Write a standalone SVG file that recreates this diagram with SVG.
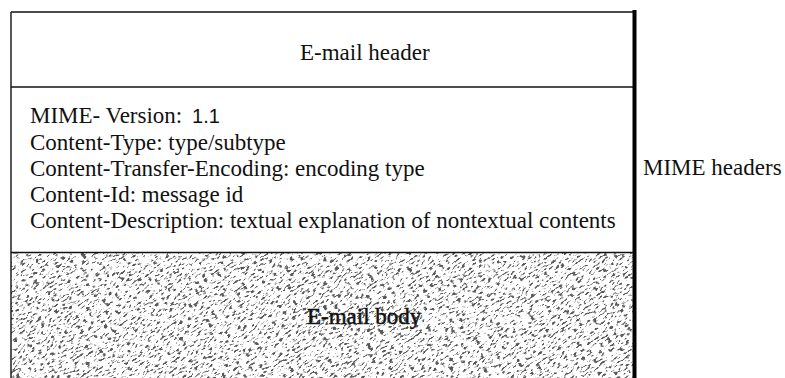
<svg xmlns="http://www.w3.org/2000/svg" width="785" height="378" viewBox="0 0 785 378">
  <style>
    .t { font-family: "Liberation Serif", "Times New Roman", serif; font-size: 23px; fill: #111; }
    .s { font-family: "Liberation Sans", Arial, sans-serif; font-size: 20px; fill: #111; }
    .thin { stroke: #111; stroke-width: 1.4; fill: none; }
    .thick { stroke: #000; stroke-width: 4; fill: none; }
  </style>
  <defs>
    <filter id="noise" x="0" y="0" width="100%" height="100%" filterUnits="objectBoundingBox">
      <feTurbulence type="fractalNoise" baseFrequency="0.22 0.55" numOctaves="3" seed="11" result="t"/>
      <feColorMatrix in="t" type="matrix" values="0 0 0 0 0.1  0 0 0 0 0.1  0 0 0 0 0.1  8 0 0 0 -4.3"/>
    </filter>
    <clipPath id="bodyclip">
      <rect x="11" y="253" width="623" height="125"/>
    </clipPath>
  </defs>
  <rect width="785" height="378" fill="#fff"/>

  <g id="email-header">
    <text class="t" x="300" y="60">E-mail header</text>
  </g>

  <g id="mime-headers">
    <text class="t" x="30" y="123">MIME- Version: <tspan class="s" dx="4">1.1</tspan></text>
    <text class="t" x="30" y="150">Content-Type: type/subtype</text>
    <text class="t" x="30" y="176">Content-Transfer-Encoding: encoding type</text>
    <text class="t" x="30" y="202">Content-Id: message id</text>
    <text class="t" x="30" y="228">Content-Description: textual explanation of nontextual contents</text>
  </g>

  <g id="email-body">
    <rect x="11" y="253" width="623" height="125" fill="#fff"/>
    <g clip-path="url(#bodyclip)">
      <rect x="-100" y="-300" width="900" height="900" fill="#000" filter="url(#noise)" transform="rotate(-35 322 315)"/>
    </g>
    <text class="t" x="307" y="324" stroke="#111" stroke-width="0.5">E-mail body</text>
  </g>

  <g id="mime-headers-label">
    <text class="t" x="643" y="175">MIME headers</text>
  </g>

  <g id="connectors">
    <line class="thin" x1="11" y1="12" x2="634" y2="12"/>
    <line class="thin" x1="11" y1="12" x2="11" y2="378"/>
    <line class="thin" x1="11" y1="87" x2="634" y2="87"/>
    <line class="thin" x1="11" y1="252.5" x2="634" y2="252.5"/>
    <line class="thick" x1="634.5" y1="10" x2="634.5" y2="378"/>
  </g>
</svg>
